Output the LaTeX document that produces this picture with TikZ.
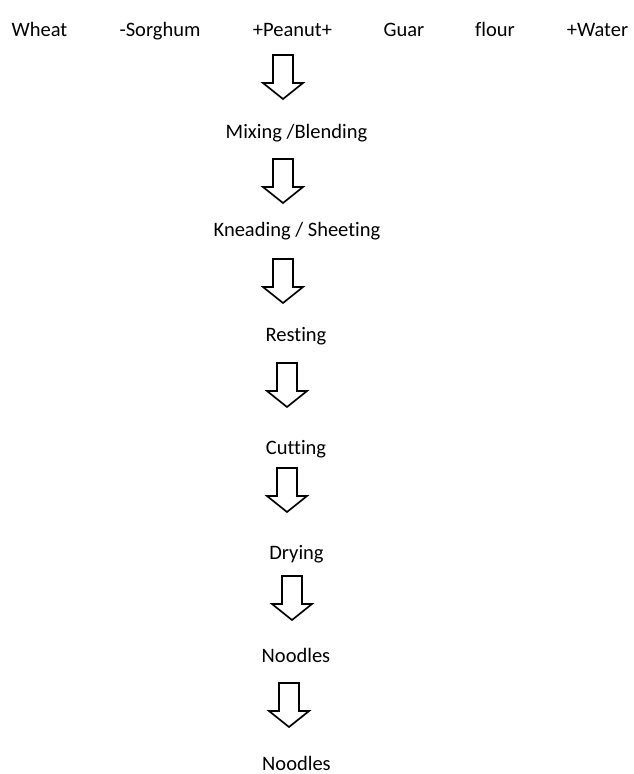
\documentclass[tikz,border=0pt]{standalone}
\usepackage{fontspec}
\setmainfont{Carlito}[RawFeature={-liga;-clig;-calt}]
\begin{document}
\begin{tikzpicture}[x=1pt,y=-1pt,
  lbl/.style={anchor=base,inner sep=0pt,font=\fontsize{20.5}{24}\selectfont},
  arrowline/.style={draw=black,line width=1.7pt,line join=miter,fill=white},
  barrow/.pic={\path[arrowline] (-10,0) -- (10,0) -- (10,28) -- (20,28) -- (0,44) -- (-20,28) -- (-10,28) -- cycle;}]
\useasboundingbox (0,0) rectangle (634,774);
% top row
\node[lbl] (wheat) at (39.5,36) {Wheat};
\node[lbl] (sorghum) at (160,36) {-Sorghum};
\node[lbl] (peanut) at (292.5,36) {+Peanut+};
\node[lbl] (guar) at (404,36) {Guar};
\node[lbl] (flour) at (495,36) {flour};
\node[lbl] (water) at (597.5,36) {+Water};
% steps
\node[lbl] (mixing) at (296.5,138.5) {Mixing /Blending};
\node[lbl] (kneading) at (297,236) {Kneading / Sheeting};
\node[lbl] (resting) at (296,341) {Resting};
\node[lbl] (cutting) at (296,454) {Cutting};
\node[lbl] (drying) at (296.5,559) {Drying};
\node[lbl] (noodles1) at (296,662) {Noodles};
\node[lbl] (noodles2) at (296.5,770) {Noodles};
% block arrows
\pic at (283,55) {barrow};
\pic at (283,159) {barrow};
\pic at (283,259) {barrow};
\pic at (287,363) {barrow};
\pic at (287,468) {barrow};
\pic at (292,576) {barrow};
\pic at (289,683) {barrow};
\end{tikzpicture}
\end{document}
